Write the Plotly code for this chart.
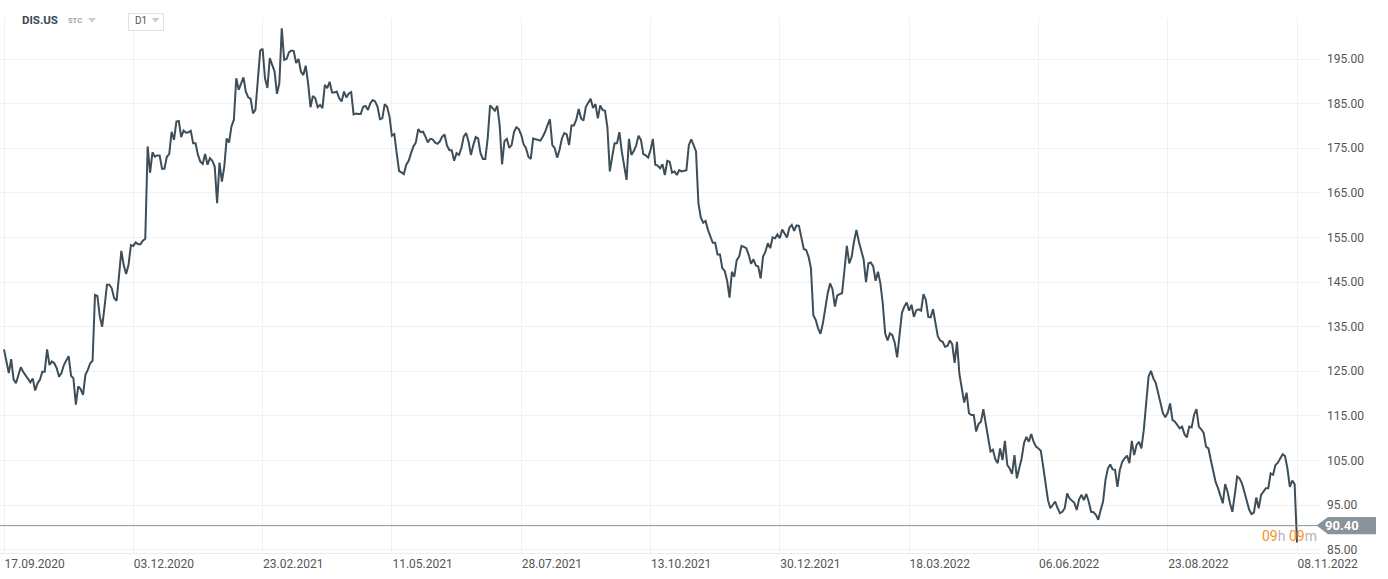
import plotly.graph_objects as go

# ---------------- data ----------------
symbol = "DIS.US"
symbol_type = "STC"
interval_label = "D1"
current_price = 90.40
countdown = ("09", "09")

tick_labels = ["17.09.2020", "03.12.2020", "23.02.2021", "11.05.2021", "28.07.2021",
               "13.10.2021", "30.12.2021", "18.03.2022", "06.06.2022", "23.08.2022",
               "08.11.2022"]
sessions_between_labels = 54
y_ticks = [85, 95, 105, 115, 125, 135, 145, 155, 165, 175, 185, 195]

# daily closes, one list per period between two date labels
p01 = [129.9, 127.5, 124.6, 127.7, 123.2, 122.3, 124.2, 125.9, 124.9, 124.0, 123.3, 122.5, 123.4, 120.7,
       122.3, 123.1, 124.9, 124.9, 129.9, 126.4, 127.2, 126.8, 125.7, 123.8, 124.6, 126.4, 127.4, 128.4,
       124.0, 123.4, 117.5, 121.6, 121.0, 119.7, 124.2, 125.3, 126.8, 127.4, 142.1, 141.9, 137.3, 135.0,
       139.5, 144.4, 144.4, 143.6, 141.4, 140.8, 146.2, 152.0, 148.8, 146.8, 148.8, 153.3]
p02 = [153.1, 153.9, 153.5, 153.5, 154.3, 154.7, 175.4, 169.5, 174.1, 173.1, 173.4, 173.4, 170.4, 170.4,
       173.1, 173.7, 178.7, 176.9, 181.0, 181.1, 177.5, 179.0, 178.5, 178.6, 178.9, 176.1, 176.1, 173.5,
       172.0, 171.5, 173.7, 171.3, 172.8, 172.2, 170.9, 162.7, 171.8, 167.5, 170.9, 177.2, 176.3, 179.9,
       181.4, 190.7, 188.1, 189.6, 190.9, 187.7, 186.4, 186.1, 182.8, 183.6, 191.1, 196.9]
p03 = [197.3, 190.7, 188.5, 195.2, 193.7, 192.2, 187.2, 189.6, 201.9, 194.8, 195.0, 196.5, 196.9, 196.8,
       194.1, 195.0, 192.2, 191.4, 193.5, 189.6, 184.2, 186.7, 186.2, 184.2, 184.7, 184.0, 189.2, 188.5,
       189.9, 187.5, 187.5, 187.7, 186.2, 185.5, 187.7, 186.4, 187.3, 187.6, 182.6, 182.8, 182.7, 182.7,
       184.3, 184.5, 183.6, 185.1, 185.8, 185.5, 184.3, 181.5, 181.7, 184.9, 184.3, 182.1]
p04 = [177.8, 178.2, 173.9, 169.9, 169.6, 169.2, 171.3, 172.2, 173.9, 175.4, 176.3, 179.3, 178.6, 178.7,
       177.6, 176.3, 177.1, 177.0, 176.3, 176.0, 176.5, 177.6, 178.1, 175.6, 174.6, 174.5, 172.2, 173.9,
       173.5, 175.0, 177.6, 178.4, 176.5, 173.5, 175.7, 177.5, 177.2, 173.9, 172.6, 172.6, 177.2, 184.6,
       184.0, 183.4, 184.5, 180.2, 171.4, 176.6, 177.1, 175.1, 175.7, 178.7, 179.7, 179.3]
p05 = [178.0, 175.9, 175.0, 173.1, 172.6, 177.2, 177.0, 176.9, 176.7, 177.6, 178.7, 180.2, 181.5, 175.7,
       175.0, 172.9, 174.6, 177.2, 178.4, 178.1, 175.7, 180.1, 180.1, 181.4, 183.8, 181.7, 181.2, 184.3,
       185.3, 186.1, 184.0, 184.9, 181.7, 184.6, 183.6, 183.4, 179.7, 169.8, 173.1, 176.1, 176.1, 178.6,
       174.3, 171.4, 167.9, 177.1, 173.5, 174.4, 175.6, 177.8, 176.9, 173.7, 173.4, 172.9]
p06 = [174.6, 177.1, 171.3, 171.1, 170.5, 171.4, 169.0, 172.2, 172.0, 169.5, 169.8, 169.0, 170.1, 169.8,
       170.0, 170.1, 175.7, 177.0, 175.7, 174.3, 162.7, 159.5, 158.3, 158.7, 156.7, 155.0, 153.8, 153.8,
       151.2, 151.2, 148.1, 147.5, 145.3, 141.5, 147.3, 146.2, 149.9, 150.7, 153.1, 152.9, 152.6, 151.1,
       149.1, 150.1, 148.7, 148.5, 145.8, 150.7, 151.8, 153.7, 152.6, 155.0, 154.8, 155.7]
p07 = [154.8, 156.8, 155.9, 155.0, 157.2, 157.8, 156.5, 157.7, 157.6, 155.2, 152.4, 152.2, 150.7, 148.1,
       137.6, 136.5, 134.6, 133.4, 135.8, 139.1, 142.5, 144.7, 143.4, 139.5, 142.0, 142.3, 142.5, 147.7,
       153.1, 149.2, 150.6, 154.1, 156.7, 154.1, 152.2, 150.1, 145.0, 149.2, 149.4, 148.5, 145.3, 147.3,
       144.7, 140.2, 133.5, 131.9, 133.5, 133.1, 131.4, 128.1, 133.1, 138.1, 139.5, 140.4]
p08 = [138.6, 139.9, 137.2, 138.7, 138.9, 138.6, 142.3, 141.0, 137.2, 137.1, 138.9, 135.4, 132.8, 131.9,
       131.6, 130.5, 130.7, 131.9, 131.1, 126.9, 131.6, 124.4, 121.6, 118.0, 120.2, 115.6, 115.2, 115.2,
       111.5, 113.2, 113.7, 116.5, 113.3, 110.3, 107.0, 107.4, 105.3, 104.4, 107.7, 105.1, 109.4, 104.0,
       103.2, 102.0, 106.2, 101.0, 103.2, 105.5, 108.9, 110.3, 109.2, 110.9, 109.2, 108.1]
p09 = [107.7, 107.2, 103.6, 99.9, 96.1, 94.3, 95.0, 95.8, 94.3, 93.2, 93.5, 94.3, 97.6, 96.5,
       96.0, 95.5, 93.9, 96.3, 97.3, 96.1, 97.5, 95.8, 93.5, 93.4, 92.8, 91.7, 93.9, 95.8,
       100.6, 103.2, 104.1, 103.0, 102.9, 99.1, 102.9, 104.7, 105.5, 106.1, 104.4, 109.4, 106.2, 108.5,
       109.2, 107.7, 111.8, 117.8, 123.8, 125.1, 123.4, 122.4, 120.1, 117.4, 115.6, 114.7]
p10 = [115.7, 117.8, 114.1, 113.7, 113.0, 112.2, 112.6, 110.9, 110.2, 112.6, 112.4, 115.2, 116.5, 112.6,
       112.0, 111.2, 108.1, 107.7, 105.1, 102.5, 100.2, 98.8, 97.3, 95.4, 99.7, 98.0, 95.4, 93.5,
       97.3, 101.4, 101.0, 99.9, 98.0, 95.8, 94.0, 93.0, 93.3, 96.7, 94.3, 97.3, 98.0, 98.8,
       98.8, 102.1, 101.8, 104.0, 104.5, 105.5, 106.4, 106.0, 103.2, 99.1, 100.5, 99.7]
last_close = [86.6]

periods = [p01, p02, p03, p04, p05, p06, p07, p08, p09, p10]

sessions, closes = [], []
for k, period in enumerate(periods):
    start = k * sessions_between_labels
    sessions += [start + i for i in range(len(period))]
    closes += period
sessions.append(len(periods) * sessions_between_labels)
closes += last_close
tick_sessions = [k * sessions_between_labels for k in range(len(tick_labels))]

# ---------------- figure ----------------
W, H = 1388, 579
M_L, M_R, M_T, M_B = 0, 68, 18, 26
PW = W - M_L - M_R
PH = H - M_T - M_B

def px(xpix):
    return (xpix - M_L) / PW

def py(ypix):
    return (H - M_B - ypix) / PH

LINE = "#3e4e59"
GRID = "#f1f1f1"
FONT = "Roboto"

fig = go.Figure()
fig.add_trace(go.Scatter(
    x=sessions, y=closes, mode="lines",
    line=dict(color=LINE, width=2), hoverinfo="skip", showlegend=False,
))

fig.update_layout(
    width=W, height=H,
    margin=dict(l=M_L, r=M_R, t=M_T, b=M_B, pad=0),
    paper_bgcolor="white", plot_bgcolor="white",
    font=dict(family=FONT, color="#555555", size=12),
    showlegend=False,
    xaxis=dict(
        range=[-1.67, 549.6], tickvals=tick_sessions, ticktext=tick_labels,
        ticklabelposition="outside right", showgrid=True, gridcolor=GRID, gridwidth=1,
        zeroline=False, showline=True, linecolor="#ebebeb", linewidth=1, ticks="",
        tickfont=dict(family=FONT, size=12, color="#555555"), fixedrange=True,
    ),
    yaxis=dict(
        range=[84.26, 204.2], side="right", tickvals=y_ticks, tickformat=".2f",
        showgrid=True, gridcolor=GRID, gridwidth=1, zeroline=False, ticks="",
        ticklabelstandoff=6,
        tickfont=dict(family=FONT, size=12, color="#555555"), fixedrange=True,
    ),
)

# current price line and label
fig.add_shape(type="line", xref="paper", yref="y", x0=0, x1=1, y0=current_price, y1=current_price,
              line=dict(color="#87929a", width=1), layer="above")
fig.add_shape(type="path", xref="paper", yref="y", xsizemode="pixel", ysizemode="pixel",
              xanchor=1, yanchor=current_price,
              path="M -3.5,0 L 8,8.7 L 56,8.7 L 56,-8.7 L 8,-8.7 Z",
              fillcolor="#89939a", line=dict(width=0), layer="above")
fig.add_annotation(xref="paper", yref="y", x=px(1342), y=current_price, xanchor="center",
                   yanchor="middle", text=f"<b>{current_price:.2f}</b>", showarrow=False,
                   font=dict(family=FONT, size=13, color="white"))
orange, grey = "#f7931e", "#b4b4b4"
fig.add_annotation(xref="paper", yref="y", x=px(1319), y=current_price, xanchor="right",
                   yanchor="top", yshift=-0.5, showarrow=False,
                   text=(f"<span style='color:{orange}'>{countdown[0]}</span>"
                         f"<span style='color:{grey}'>h</span> "
                         f"<span style='color:{orange}'>{countdown[1]}</span>"
                         f"<span style='color:{grey}'>m</span>"),
                   font=dict(family=FONT, size=14))

# header
fig.add_annotation(xref="paper", yref="paper", x=px(20), y=py(20.5), xanchor="left", yanchor="middle",
                   text=f"<b>{symbol}</b>", showarrow=False,
                   font=dict(family=FONT, size=11.5, color="#3b4852"))
fig.add_annotation(xref="paper", yref="paper", x=px(65.5), y=py(20.5), xanchor="left", yanchor="middle",
                   text=f"<b>{symbol_type}</b>", showarrow=False,
                   font=dict(family=FONT, size=7.5, color="#97a5ae"))
fig.add_shape(type="rect", xref="paper", yref="paper", x0=px(128.5), x1=px(163.5), y0=py(30.5), y1=py(13.5),
              line=dict(color="#e2e2e2", width=1), fillcolor="white", layer="above")
for tx in (92, 155.5):
    fig.add_shape(type="path", xref="paper", yref="paper", xsizemode="pixel", ysizemode="pixel",
                  xanchor=px(tx), yanchor=py(20), path="M -4,2 L 4,2 L 0,-2.5 Z",
                  fillcolor="#c8ced2", line=dict(width=0), layer="above")
fig.add_annotation(xref="paper", yref="paper", x=px(132.5), y=py(21), xanchor="left", yanchor="middle",
                   text=interval_label, showarrow=False,
                   font=dict(family=FONT, size=10, color="#555555"))

fig.write_html("out.html", include_plotlyjs=True, full_html=True,
               config={"displayModeBar": False},
               post_script="document.body.style.margin='0';")
